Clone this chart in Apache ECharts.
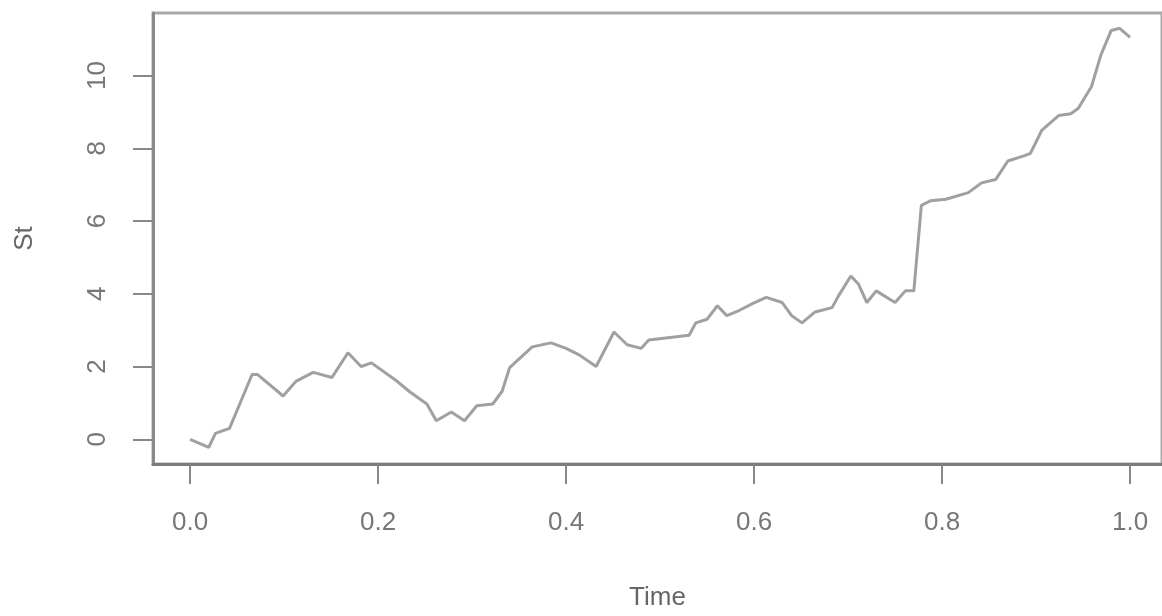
<!DOCTYPE html>
<html>
<head>
<meta charset="utf-8">
<script src="https://cdn.jsdelivr.net/npm/echarts@6/dist/echarts.min.js"></script>
<style>
html,body{margin:0;padding:0;background:#fff;}
#chart{width:1162px;height:616px;}
</style>
</head>
<body>
<div id="chart"></div>
<script>
// Data
const times = [0.00,0.02,0.027,0.042,0.066,0.072,0.099,0.113,0.131,0.151,0.168,0.182,0.193,0.22,0.234,0.252,0.262,0.278,0.292,0.305,0.322,0.332,0.34,0.364,0.384,0.40,0.414,0.432,0.451,0.465,0.48,0.488,0.531,0.538,0.55,0.561,0.571,0.584,0.60,0.613,0.63,0.64,0.651,0.665,0.683,0.69,0.703,0.711,0.72,0.73,0.75,0.761,0.77,0.778,0.788,0.804,0.828,0.842,0.857,0.87,0.888,0.894,0.906,0.924,0.937,0.945,0.959,0.969,0.98,0.989,1.0];
const stValues = [0.0,-0.22,0.16,0.30,1.78,1.78,1.19,1.60,1.84,1.70,2.38,2.00,2.10,1.60,1.30,0.97,0.51,0.75,0.51,0.92,0.97,1.32,1.97,2.54,2.65,2.50,2.32,2.00,2.95,2.60,2.50,2.73,2.86,3.20,3.30,3.67,3.40,3.54,3.75,3.90,3.76,3.40,3.20,3.50,3.62,3.95,4.49,4.27,3.76,4.08,3.76,4.08,4.08,6.43,6.56,6.60,6.78,7.05,7.14,7.65,7.80,7.86,8.49,8.90,8.95,9.10,9.70,10.57,11.24,11.30,11.05];
const xTicks = [0, 0.2, 0.4, 0.6, 0.8, 1.0];
const xTickLabels = ['0.0','0.2','0.4','0.6','0.8','1.0'];
const yTicks = [0, 2, 4, 6, 8, 10];
const yTickLabels = ['0','2','4','6','8','10'];

const seriesData = times.map((t, i) => [t, stValues[i]]);

const chart = echarts.init(document.getElementById('chart'), null, {renderer: 'canvas'});
const labelFont = {color: '#777', fontSize: 26, fontFamily: 'Liberation Sans, Arial, sans-serif'};
chart.setOption({
  animation: false,
  backgroundColor: '#fff',
  grid: {
    left: 153, top: 13, right: 0, bottom: 146,
    show: true, borderColor: '#aaa', borderWidth: 3, backgroundColor: 'transparent'
  },
  xAxis: {
    type: 'value', min: -0.0394, max: 1.034,
    name: 'Time', nameLocation: 'middle', nameGap: 121,
    nameTextStyle: Object.assign({}, labelFont, {color: '#666'}),
    axisLine: {show: true, onZero: false, lineStyle: {color: '#7a7a7a', width: 3}},
    axisTick: {show: true, length: 20, customValues: xTicks, lineStyle: {color: '#888', width: 2}},
    axisLabel: Object.assign({}, labelFont, {
      margin: 46, customValues: xTicks,
      formatter: v => xTickLabels[xTicks.findIndex(t => Math.abs(t - v) < 1e-9)] ?? ''
    }),
    splitLine: {show: false}
  },
  yAxis: {
    type: 'value', min: -0.68, max: 11.72,
    name: 'St', nameLocation: 'middle', nameGap: 115, nameRotate: 90,
    nameTextStyle: Object.assign({}, labelFont, {color: '#666'}),
    axisLine: {show: true, onZero: false, lineStyle: {color: '#8a8a8a', width: 3}},
    axisTick: {show: true, length: 20, customValues: yTicks, lineStyle: {color: '#888', width: 2}},
    axisLabel: Object.assign({}, labelFont, {
      margin: 42, rotate: 90, customValues: yTicks,
      formatter: v => yTickLabels[yTicks.findIndex(t => Math.abs(t - v) < 1e-9)] ?? ''
    }),
    splitLine: {show: false}
  },
  series: [{
    type: 'line',
    data: seriesData,
    showSymbol: false,
    smooth: false,
    lineStyle: {color: '#a0a0a0', width: 3},
    silent: true
  }]
});
</script>
</body>
</html>
